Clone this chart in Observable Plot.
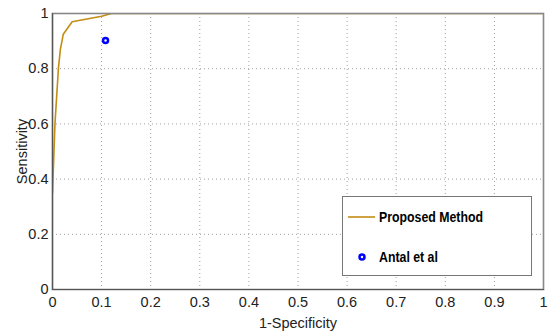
<!DOCTYPE html>
<html>
<head>
<meta charset="utf-8">
<script src="https://cdn.jsdelivr.net/npm/d3@7"></script>
<script src="https://cdn.jsdelivr.net/npm/@observablehq/plot@0.6"></script>
<style>
  html, body { margin: 0; padding: 0; background: #fff; }
  #wrap { position: relative; width: 549px; height: 333px; }
  .legend { position: absolute; left: 342px; top: 196px; width: 190px; height: 80px;
    border: 1px solid #777; background: #fff; box-sizing: border-box;
    font-family: "Liberation Sans", Arial, sans-serif; font-weight: bold; font-size: 14px; color: #000; }
  .legend .row { position: absolute; left: 0; height: 20px; display: flex; align-items: center; }
  .legend svg { display: block; }
  .legend span { display: inline-block; transform: scaleX(0.88); transform-origin: left center; }
</style>
</head>
<body>
<div id="wrap"></div>
<script>
const rocFpr = [0, 0.005, 0.012, 0.016, 0.022, 0.04, 0.1, 0.12, 1];
const rocTpr = [0.35, 0.6, 0.8, 0.87, 0.925, 0.97, 0.99, 1, 1];
const antalFpr = [0.108];
const antalTpr = [0.902];
const xTicks = [0, 0.1, 0.2, 0.3, 0.4, 0.5, 0.6, 0.7, 0.8, 0.9, 1];
const yTicks = [0, 0.2, 0.4, 0.6, 0.8, 1];
const seriesNames = ["Proposed Method", "Antal et al"];
const lineColor = "#c38c12";
const dotColor = "#0000ff";

const roc = rocFpr.map((x, i) => ({x, y: rocTpr[i]}));
const antal = antalFpr.map((x, i) => ({x, y: antalTpr[i]}));

const font = "'Liberation Sans', Arial, sans-serif";
const chart = Plot.plot({
  width: 549, height: 333,
  marginLeft: 52, marginRight: 6, marginTop: 13, marginBottom: 44,
  style: {fontFamily: font, fontSize: "14px", color: "#222", background: "#fff"},
  x: {domain: [0, 1]},
  y: {domain: [0, 1]},
  marks: [
    Plot.gridX(xTicks, {stroke: "#888", strokeOpacity: 0.8, strokeDasharray: "1,3"}),
    Plot.gridY(yTicks, {stroke: "#888", strokeOpacity: 0.8, strokeDasharray: "1,3"}),
    Plot.axisX({ticks: xTicks, tickFormat: d => String(d), tickSize: 0, tickPadding: 7,
      label: "1-Specificity", labelAnchor: "center", labelArrow: "none", labelOffset: 38, fontSize: 14.5}),
    Plot.axisY({ticks: yTicks, tickFormat: d => String(d), tickSize: 0, tickPadding: 4,
      label: "Sensitivity", labelAnchor: "center", labelArrow: "none", labelOffset: 36, fontSize: 14.5}),
    Plot.line(roc, {x: "x", y: "y", stroke: lineColor, strokeWidth: 1.6, clip: true}),
    Plot.frame({stroke: "#888", strokeWidth: 1.6}),
    Plot.frame({anchor: "left", stroke: "#555", strokeWidth: 1.2}),
    Plot.frame({anchor: "bottom", stroke: "#555", strokeWidth: 1.2}),
    Plot.dot(antal, {x: "x", y: "y", r: 2.5, stroke: dotColor, strokeWidth: 2.5, fill: "#fff"})
  ]
});
const wrap = document.getElementById("wrap");
wrap.appendChild(chart);

const legend = document.createElement("div");
legend.className = "legend";
legend.innerHTML = `
  <div class="row" style="top:10px;left:5px">
    <svg width="28" height="10"><line x1="0" y1="5" x2="27" y2="5" stroke="${lineColor}" stroke-width="1.6"/></svg>
    <span style="margin-left:3px">${seriesNames[0]}</span>
  </div>
  <div class="row" style="top:50px;left:13px">
    <svg width="14" height="10"><circle cx="6" cy="5" r="2.5" stroke="${dotColor}" stroke-width="2.5" fill="#fff"/></svg>
    <span style="margin-left:9px">${seriesNames[1]}</span>
  </div>`;
wrap.appendChild(legend);
</script>
</body>
</html>
